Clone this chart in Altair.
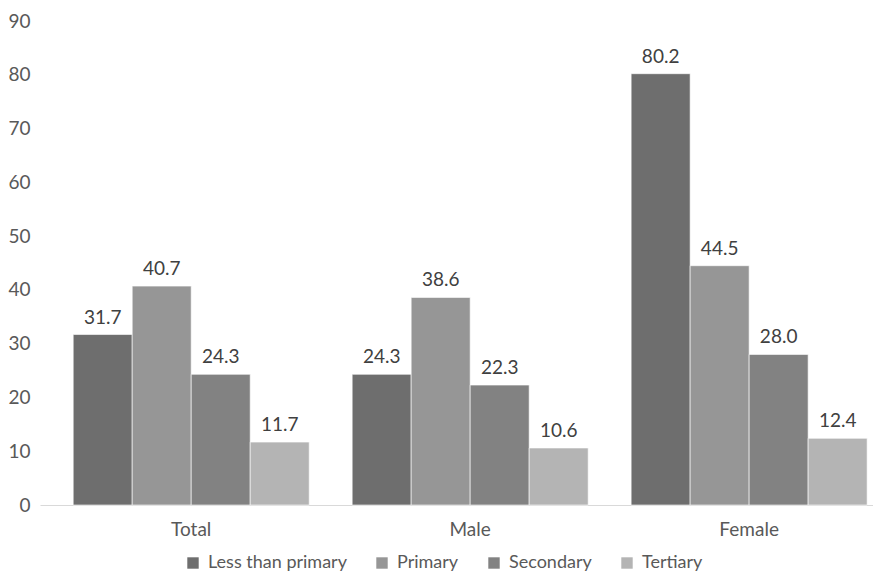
import altair as alt
import pandas as pd

groups = ["Total", "Male", "Female"]
levels = ["Less than primary", "Primary", "Secondary", "Tertiary"]
total = [31.7, 40.7, 24.3, 11.7]
male = [24.3, 38.6, 22.3, 10.6]
female = [80.2, 44.5, 28.0, 12.4]
colors = ["#6e6e6e", "#969696", "#828282", "#b4b4b4"]
y_ticks = [0, 10, 20, 30, 40, 50, 60, 70, 80, 90]

rows = []
for g, vals in zip(groups, [total, male, female]):
    for lvl, v in zip(levels, vals):
        rows.append({"group": g, "level": lvl, "value": v, "label": f"{v:.1f}"})
df = pd.DataFrame(rows)

FONT = "Lato"

x = alt.X(
    "group:N", sort=groups, title=None,
    scale=alt.Scale(paddingInner=0.154, paddingOuter=0.07, align=0.85),
    axis=alt.Axis(labelAngle=0, ticks=False, domainColor="#d9d9d9", domainWidth=1,
                  labelColor="#595959", labelFontSize=19, labelPadding=15, labelFont=FONT),
)
xo = alt.XOffset("level:N", sort=levels, scale=alt.Scale(paddingInner=0, paddingOuter=0))
y = alt.Y(
    "value:Q", title=None,
    scale=alt.Scale(domain=[0, 90], nice=False),
    axis=alt.Axis(values=y_ticks, grid=False, domain=False, ticks=False, labelPadding=10,
                  labelColor="#595959", labelFontSize=19, labelFont=FONT),
)
color = alt.Color(
    "level:N", sort=levels, scale=alt.Scale(domain=levels, range=colors),
    legend=alt.Legend(orient="none", legendX=144, legendY=533, direction="horizontal",
                      title=None, symbolType="square", symbolSize=130, symbolStrokeWidth=0,
                      labelFontSize=18, labelColor="#595959", labelFont=FONT,
                      columnPadding=26, labelOffset=6),
)

bars = alt.Chart(df).mark_bar(stroke="#ffffff", strokeWidth=0.6).encode(x=x, xOffset=xo, y=y, color=color)
texts = alt.Chart(df).mark_text(baseline="bottom", dy=-7, fontSize=19, color="#404040", font=FONT).encode(
    x=x, xOffset=xo, y=y, text="label:N"
)

chart = (
    alt.layer(bars, texts)
    .properties(width=833, height=484, autosize=alt.AutoSizeParams(type="none"),
                padding={"left": 32, "top": 13, "right": 0, "bottom": 70})
    .configure_view(stroke=None)
)

chart.save("out.html", embed_options={"renderer": "svg", "actions": False})
